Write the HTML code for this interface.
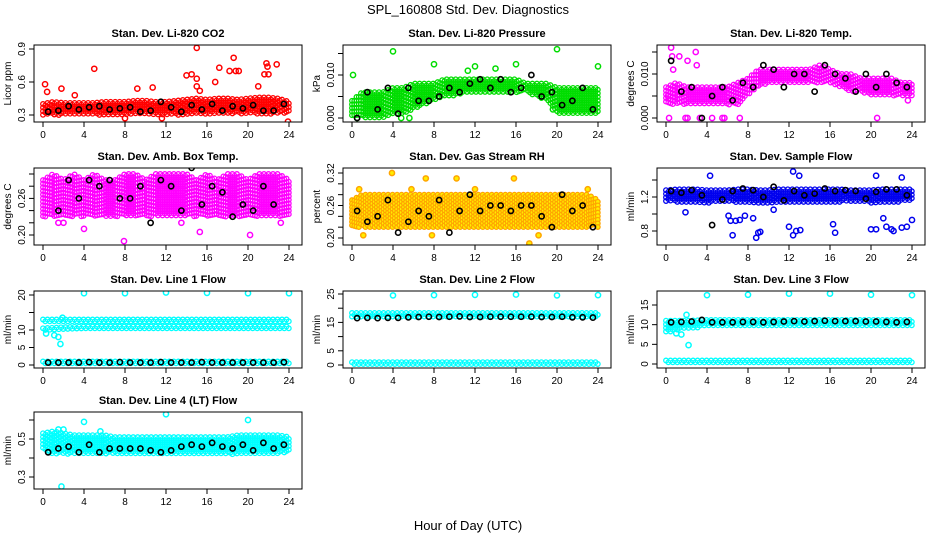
<!DOCTYPE html>
<html><head><meta charset="utf-8">
<style>
html,body{margin:0;padding:0;background:#fff;}
svg{display:block;font-family:"Liberation Sans",Arial,sans-serif;}
</style></head>
<body>
<svg id="chart" width="936" height="540" viewBox="0 0 936 540" xmlns="http://www.w3.org/2000/svg">
<rect width="936" height="540" fill="#fff"/>
<text x="468" y="14" text-anchor="middle" font-size="13">SPL_160808  Std. Dev. Diagnostics</text>
<text x="468" y="530" text-anchor="middle" font-size="13">Hour of Day (UTC)</text>
</svg>
<script>
// ---------- data (hourly band envelopes, outliers, hourly black means) ----------
const xTickLabels = ["0","4","8","12","16","20","24"];
const blackHours = [0.5,1.5,2.5,3.5,4.5,5.5,6.5,7.5,8.5,9.5,10.5,11.5,12.5,13.5,14.5,15.5,16.5,17.5,18.5,19.5,20.5,21.5,22.5,23.5];

const co2Lo = [0.30,0.30,0.30,0.30,0.30,0.30,0.30,0.30,0.30,0.30,0.30,0.30,0.30,0.30,0.30,0.31,0.31,0.31,0.31,0.31,0.31,0.31,0.31,0.31,0.31];
const co2Hi = [0.40,0.42,0.41,0.41,0.41,0.41,0.42,0.42,0.42,0.43,0.43,0.42,0.42,0.43,0.44,0.45,0.44,0.45,0.45,0.44,0.45,0.46,0.46,0.45,0.42];
const co2OutX = [0.2,0.4,1.8,3.1,5.0,9.2,10.7,14.0,14.5,15.0,15.0,15.0,15.3,16.8,17.2,18.2,18.6,18.8,19.1,21.0,21.6,21.8,21.9,22.0,22.8,23.9,11.6,8.0];
const co2OutY = [0.58,0.51,0.54,0.48,0.72,0.54,0.55,0.66,0.67,0.91,0.63,0.56,0.52,0.60,0.73,0.70,0.82,0.70,0.70,0.56,0.67,0.77,0.74,0.67,0.76,0.24,0.27,0.27];
const co2Black = [0.33,0.34,0.38,0.35,0.37,0.38,0.35,0.36,0.37,0.33,0.34,0.42,0.37,0.33,0.39,0.35,0.40,0.34,0.38,0.36,0.39,0.34,0.34,0.40];

const presLo = [0.000,0.000,0.000,0.000,0.001,0.001,0.002,0.003,0.004,0.005,0.005,0.006,0.006,0.006,0.006,0.006,0.006,0.006,0.005,0.004,0.001,0.001,0.001,0.001,0.001];
const presHi = [0.004,0.006,0.006,0.006,0.007,0.007,0.008,0.008,0.008,0.009,0.009,0.009,0.009,0.009,0.009,0.009,0.009,0.008,0.008,0.008,0.007,0.007,0.007,0.007,0.007];
const presOutX = [0.1,4.0,8.0,12.0,14.0,16.0,20.0,24.0,0.5,4.8,5.6,11.3,19.6];
const presOutY = [0.010,0.0155,0.0125,0.012,0.0115,0.0125,0.016,0.012,0.000,0.000,0.000,0.011,0.002];
const presBlack = [0.000,0.006,0.002,0.007,0.001,0.007,0.004,0.004,0.005,0.007,0.006,0.008,0.009,0.007,0.009,0.006,0.007,0.010,0.005,0.006,0.003,0.004,0.007,0.002];

const tempLo = [0.003,0.003,0.003,0.003,0.003,0.003,0.003,0.003,0.005,0.007,0.008,0.008,0.008,0.008,0.008,0.008,0.008,0.007,0.006,0.006,0.005,0.005,0.005,0.005,0.005];
const tempHi = [0.007,0.008,0.007,0.007,0.007,0.007,0.007,0.008,0.009,0.011,0.011,0.011,0.011,0.011,0.011,0.012,0.011,0.010,0.010,0.009,0.009,0.009,0.009,0.008,0.008];
const tempOutX = [0.5,0.6,1.3,2.1,2.9,3.0,0.3,1.9,2.1,3.3,4.5,5.5,5.7,7.2,20.6,23.6,0.2,0.7];
const tempOutY = [0.016,0.014,0.014,0.013,0.015,0.012,0.000,0.000,0.000,0.000,0.000,0.000,0.000,0.000,0.000,0.004,0.005,0.011];
const tempBlack = [0.013,0.006,0.007,0.000,0.005,0.007,0.004,0.008,0.007,0.012,0.011,0.007,0.010,0.010,0.006,0.012,0.010,0.009,0.006,0.010,0.007,0.010,0.008,0.007];

const ambLo = [0.23,0.23,0.23,0.23,0.23,0.23,0.23,0.23,0.23,0.23,0.23,0.23,0.23,0.23,0.23,0.23,0.23,0.23,0.23,0.23,0.23,0.23,0.23,0.23,0.23];
const ambHi = [0.29,0.30,0.29,0.30,0.29,0.30,0.29,0.29,0.30,0.30,0.29,0.30,0.30,0.30,0.30,0.29,0.30,0.29,0.30,0.30,0.29,0.30,0.30,0.30,0.29];
const ambOutX = [0.9,2.4,4.0,7.9,15.3,20.2,22.4,1.5,2.0,13.5,17.2,23.2,6.8,9.4];
const ambOutY = [0.32,0.32,0.21,0.19,0.205,0.20,0.33,0.22,0.22,0.22,0.33,0.22,0.32,0.32];
const ambBlack = [0.32,0.24,0.29,0.26,0.29,0.28,0.29,0.26,0.26,0.28,0.22,0.29,0.28,0.24,0.31,0.25,0.28,0.27,0.23,0.25,0.24,0.28,0.25,0.32];

const rhLo = [0.22,0.22,0.22,0.22,0.22,0.22,0.22,0.22,0.22,0.22,0.22,0.22,0.22,0.22,0.22,0.22,0.22,0.22,0.22,0.22,0.22,0.22,0.22,0.22,0.22];
const rhHi = [0.27,0.28,0.28,0.28,0.28,0.28,0.28,0.28,0.28,0.28,0.28,0.28,0.28,0.28,0.28,0.28,0.28,0.28,0.28,0.28,0.28,0.28,0.28,0.28,0.27];
const rhOutX = [3.9,4.2,7.2,10.2,15.8,17.3,23.0,1.1,7.8,0.7,5.8,12.0,18.2];
const rhOutY = [0.32,0.335,0.31,0.31,0.31,0.19,0.29,0.205,0.205,0.29,0.29,0.29,0.205];
const rhBlack = [0.25,0.23,0.24,0.27,0.21,0.23,0.25,0.24,0.27,0.21,0.25,0.28,0.25,0.26,0.26,0.25,0.26,0.26,0.24,0.22,0.28,0.25,0.26,0.22];

const flowLo = [1.15,1.14,1.13,1.13,1.13,1.14,1.14,1.13,1.13,1.13,1.13,1.14,1.13,1.13,1.14,1.14,1.14,1.14,1.14,1.14,1.13,1.14,1.14,1.14,1.16];
const flowHi = [1.28,1.29,1.29,1.29,1.28,1.28,1.28,1.29,1.29,1.28,1.28,1.29,1.29,1.29,1.29,1.29,1.29,1.29,1.28,1.28,1.28,1.29,1.29,1.29,1.29];
const flowOutX = [6.1,6.3,6.8,7.2,6.5,7.7,8.5,8.8,9.0,9.2,10.5,12.0,12.4,12.7,13.1,16.5,16.3,20.0,20.5,21.2,21.5,22.0,22.2,23.0,23.5,24.0,12.4,13.0,20.5,23.0,4.3,1.9];
const flowOutY = [0.98,0.92,0.92,0.93,0.75,0.98,0.95,0.72,0.78,0.79,1.05,0.85,0.75,0.80,0.81,0.78,0.88,0.82,0.82,0.95,0.85,0.82,0.80,0.84,0.85,0.93,1.50,1.45,1.45,1.43,1.45,1.02];
const flowBlack = [1.27,1.25,1.28,1.22,0.87,1.17,1.27,1.30,1.28,1.20,1.32,1.16,1.27,1.22,1.24,1.30,1.27,1.28,1.27,1.18,1.26,1.29,1.29,1.22];

const l1LoA = [12.0,12.0,12.0,12.0,12.0,12.0,12.0,12.0,12.0,12.0,12.0,12.0,12.0];
const l1HiA = [13.0,13.0,13.0,13.0,13.0,13.0,13.0,13.0,13.0,13.0,13.0,13.0,13.0];
const l1LoB = [9.5,10.0,10.2,10.2,10.2,10.2,10.2,10.2,10.2,10.2,10.2,10.2,10.2];
const l1HiB = [10.5,10.8,11.0,11.0,11.0,11.0,11.0,11.0,11.0,11.0,11.0,11.0,11.0];
const l1LoC = [0.4,0.4];
const l1HiC = [1.0,1.0];
const l1OutX = [4,8,12,16,20,24,1.5,1.7,1.9,0.3,1.1];
const l1OutY = [20.5,20.5,20.7,20.6,20.5,20.5,8.0,6.0,13.5,9.0,8.5];
const l1Black = [0.7,0.7,0.7,0.7,0.8,0.7,0.7,0.8,0.7,0.7,0.7,0.8,0.7,0.7,0.7,0.8,0.7,0.7,0.7,0.7,0.7,0.7,0.7,0.8];

const l2LoA = [17.0,17.0];
const l2HiA = [18.3,18.3];
const l2LoC = [0.3,0.3];
const l2HiC = [1.0,1.0];
const l2OutX = [4,8,12,16,20,24];
const l2OutY = [24.5,24.6,24.7,24.8,24.5,24.6];
const l2Black = [16.5,16.6,16.5,16.6,16.6,16.8,16.9,17.0,16.9,17.0,17.1,16.9,16.9,17.0,17.0,17.0,17.0,17.0,16.9,16.9,17.0,16.8,16.8,16.7];

const l3LoA = [8.0,9.0,9.5,9.5,9.5,9.5,9.5,9.5,9.5,9.5,9.5,9.5,9.5];
const l3HiA = [11.0,11.0,11.2,11.2,11.2,11.2,11.2,11.2,11.2,11.2,11.2,11.2,11.2];
const l3LoC = [0.2,0.2];
const l3HiC = [0.9,0.9];
const l3OutX = [4,8,12,16,20,24,1.5,2.0,2.2,1.0];
const l3OutY = [17.5,17.6,17.9,17.9,17.6,17.5,7.5,12.5,4.8,7.8];
const l3Black = [10.6,10.7,10.8,11.2,10.6,10.6,10.6,10.7,10.7,10.6,10.7,10.8,10.9,10.8,10.9,11.0,10.9,10.9,10.9,10.8,10.8,10.7,10.6,10.7];

const l4Lo = [0.44,0.42,0.42,0.42,0.42,0.42,0.42,0.42,0.42,0.42,0.42,0.42,0.42,0.42,0.42,0.42,0.42,0.42,0.42,0.42,0.42,0.42,0.42,0.42,0.43];
const l4Hi = [0.53,0.54,0.53,0.52,0.52,0.52,0.52,0.51,0.51,0.51,0.51,0.51,0.51,0.51,0.51,0.51,0.51,0.51,0.51,0.52,0.52,0.52,0.52,0.52,0.51];
const l4OutX = [1.8,4.0,12.0,20.0,1.5,2.0,5.6];
const l4OutY = [0.25,0.59,0.63,0.60,0.55,0.55,0.54];
const l4Black = [0.43,0.45,0.46,0.43,0.47,0.43,0.45,0.45,0.45,0.45,0.44,0.43,0.44,0.46,0.47,0.46,0.48,0.46,0.45,0.47,0.44,0.48,0.45,0.47];

// ---------- panel layout ----------
const NS = "http://www.w3.org/2000/svg";
const svg = document.getElementById("chart");
const cols = [34, 343, 657];
const rows = [45, 168, 291, 412];
const boxW = 268, boxH = 77;

const panels = [
 {c:0,r:0,slug:"co2",title:"Stan. Dev. Li-820 CO2",ylab:"Licor ppm",col:"#ff0000",v0:0.3,p0:115,v1:0.9,p1:49,ticks:[0.3,0.6,0.9],labs:["0.3","0.6","0.9"],
  bands:[[co2Lo,co2Hi]],ox:co2OutX,oy:co2OutY,blk:co2Black},
 {c:1,r:0,slug:"pressure",title:"Stan. Dev. Li-820 Pressure",ylab:"kPa",col:"#00dd00",v0:0,p0:118,v1:0.01,p1:75,ticks:[0,0.005,0.01,0.015],labs:["0.000","","0.010",""],
  bands:[[presLo,presHi]],ox:presOutX,oy:presOutY,blk:presBlack},
 {c:2,r:0,slug:"temp",title:"Stan. Dev. Li-820 Temp.",ylab:"degrees C",col:"#ff00ff",v0:0,p0:118,v1:0.01,p1:74,ticks:[0,0.005,0.01,0.015],labs:["0.000","","0.010",""],
  bands:[[tempLo,tempHi]],ox:tempOutX,oy:tempOutY,blk:tempBlack},
 {c:0,r:1,slug:"amb-temp",title:"Stan. Dev. Amb. Box Temp.",ylab:"degrees C",col:"#ff00ff",v0:0.2,p0:235,v1:0.3,p1:174,ticks:[0.2,0.22,0.24,0.26,0.28,0.3],labs:["0.20","","","0.26","",""],
  bands:[[ambLo,ambHi]],ox:ambOutX,oy:ambOutY,blk:ambBlack},
 {c:1,r:1,slug:"rh",title:"Stan. Dev. Gas Stream RH",ylab:"percent",col:"#ffa500",fill:"#ffee00",v0:0.2,p0:238,v1:0.32,p1:173,ticks:[0.2,0.22,0.24,0.26,0.28,0.3,0.32],labs:["0.20","","","0.26","","","0.32"],
  bands:[[rhLo,rhHi]],ox:rhOutX,oy:rhOutY,blk:rhBlack},
 {c:2,r:1,slug:"sample-flow",title:"Stan. Dev. Sample Flow",ylab:"ml/min",col:"#0000ee",v0:0.8,p0:231,v1:1.2,p1:197,ticks:[0.8,1.0,1.2,1.4],labs:["0.8","","1.2",""],
  bands:[[flowLo,flowHi]],ox:flowOutX,oy:flowOutY,blk:flowBlack},
 {c:0,r:2,slug:"line1",title:"Stan. Dev. Line 1 Flow",ylab:"ml/min",col:"#00ffff",v0:0,p0:365,v1:20,p1:295,ticks:[0,5,10,15,20],labs:["0","5","10","","20"],
  bands:[[l1LoA,l1HiA],[l1LoB,l1HiB],[l1LoC,l1HiC]],ox:l1OutX,oy:l1OutY,blk:l1Black},
 {c:1,r:2,slug:"line2",title:"Stan. Dev. Line 2 Flow",ylab:"ml/min",col:"#00ffff",v0:0,p0:365,v1:25,p1:294,ticks:[0,5,10,15,20,25],labs:["0","5","","15","","25"],
  bands:[[l2LoA,l2HiA],[l2LoC,l2HiC]],ox:l2OutX,oy:l2OutY,blk:l2Black},
 {c:2,r:2,slug:"line3",title:"Stan. Dev. Line 3 Flow",ylab:"ml/min",col:"#00ffff",v0:0,p0:364,v1:15,p1:305,ticks:[0,5,10,15],labs:["0","5","10","15"],
  bands:[[l3LoA,l3HiA],[l3LoC,l3HiC]],ox:l3OutX,oy:l3OutY,blk:l3Black},
 {c:0,r:3,slug:"line4",title:"Stan. Dev. Line 4 (LT) Flow",ylab:"ml/min",col:"#00ffff",v0:0.3,p0:477,v1:0.5,p1:439,ticks:[0.3,0.4,0.5,0.6],labs:["0.3","","0.5",""],
  bands:[[l4Lo,l4Hi]],ox:l4OutX,oy:l4OutY,blk:l4Black}
];

function mk(tag, attrs, parent){
  const e = document.createElementNS(NS, tag);
  for (const k in attrs) e.setAttribute(k, attrs[k]);
  (parent||svg).appendChild(e);
  return e;
}
function interp(arr, h){
  const n = arr.length - 1;
  const t = h / 24 * n;
  const i = Math.min(n - 1, Math.max(0, Math.floor(t)));
  const f = t - i;
  return arr[i] * (1 - f) + arr[i + 1] * f;
}

panels.forEach(p => {
  const L = cols[p.c], T = rows[p.r];
  const xs = h => L + 9 + h * (246 / 24);
  const ys = v => p.p0 + (v - p.v0) * (p.p1 - p.p0) / (p.v1 - p.v0);
  const g = mk("g", {});
  
  

  const clip = mk("clipPath", {id: "clip-" + p.slug}, g);
  mk("rect", {x: L, y: T, width: boxW, height: boxH}, clip);
  const plot = mk("g", {"clip-path": "url(#clip-" + p.slug + ")"}, g);
  
  

  const fillc = p.fill || "none";
  // dense band of points
  p.bands.forEach((b, bi) => {
    const bg = mk("g", {fill: fillc, stroke: p.col, "stroke-width": 1.3}, plot);
    
    
    let k = 0;
    for (let h = 0; h <= 24.001; h += 0.22, k++) {
      const ylo = ys(interp(b[0], h)), yhi = ys(interp(b[1], h));
      const top = Math.min(ylo, yhi), bot = Math.max(ylo, yhi);
      for (let y = top + ((k % 2) ? 1.8 : 0); y <= bot + 0.01; y += 3.6) {
        const c = mk("circle", {cx: xs(h).toFixed(1), cy: y.toFixed(1), r: 2.3}, bg);
        
        
      }
    }
  });
  // outliers
  const og = mk("g", {fill: fillc, stroke: p.col, "stroke-width": 1.5}, plot);
  
  
  p.ox.forEach((h, i) => {
    const c = mk("circle", {cx: xs(h), cy: ys(p.oy[i]), r: 2.6}, og);
    
    
  });
  // black hourly points
  const kg = mk("g", {fill: "none", stroke: "#000", "stroke-width": 1.6}, plot);
  
  
  p.blk.forEach((v, i) => {
    const c = mk("circle", {cx: xs(blackHours[i]), cy: ys(v), r: 2.6}, kg);
    
    
  });

  // box
  const box = mk("rect", {x: L, y: T, width: boxW, height: boxH, fill: "none", stroke: "#000", "stroke-width": 1}, g);
  
  

  // title
  const tt = mk("text", {x: L + boxW / 2, y: T - 8, "text-anchor": "middle", "font-size": 11, "font-weight": "bold"}, g);
  tt.textContent = p.title;
  
  

  // x axis
  const xa = mk("g", {stroke: "#000", "stroke-width": 1}, g);
  
  
  mk("line", {x1: xs(0), x2: xs(24), y1: T + boxH, y2: T + boxH}, xa);
  xTickLabels.forEach((lab, i) => {
    const h = i * 4;
    mk("line", {x1: xs(h), x2: xs(h), y1: T + boxH, y2: T + boxH + 5}, xa);
    const tx = mk("text", {x: xs(h), y: T + boxH + 16, "text-anchor": "middle", "font-size": 10, stroke: "none"}, xa);
    tx.textContent = lab;
    
    
  });

  // y axis
  const ya = mk("g", {stroke: "#000", "stroke-width": 1}, g);
  
  
  mk("line", {x1: L, x2: L, y1: ys(p.ticks[0]), y2: ys(p.ticks[p.ticks.length - 1])}, ya);
  p.ticks.forEach((v, i) => {
    const y = ys(v);
    mk("line", {x1: L - 5, x2: L, y1: y, y2: y}, ya);
    if (p.labs[i]) {
      const tx = mk("text", {x: L - 9, y: y, "text-anchor": "middle", "font-size": 10, stroke: "none", transform: "rotate(-90 " + (L - 9) + " " + y + ")"}, ya);
      tx.textContent = p.labs[i];
      
      
    }
  });
  const yl = mk("text", {x: L - 23, y: T + boxH / 2, "text-anchor": "middle", "font-size": 10, transform: "rotate(-90 " + (L - 23) + " " + (T + boxH / 2) + ")"}, g);
  yl.textContent = p.ylab;
  
  
});
</script>
</body></html>
